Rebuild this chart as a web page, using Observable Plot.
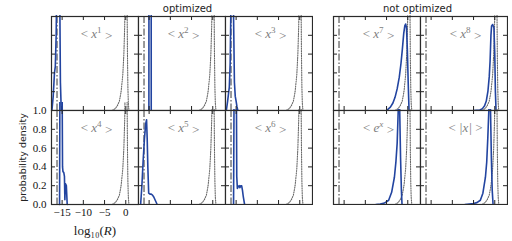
<!DOCTYPE html>
<html><head><meta charset="utf-8">
<script src="https://cdn.jsdelivr.net/npm/d3@7"></script>
<script src="https://cdn.jsdelivr.net/npm/@observablehq/plot@0.6"></script>
<style>
body{margin:0;background:#fff;}
#chart{position:relative;width:512px;height:241px;overflow:hidden;background:#fff;}
.gtitle{position:absolute;font-family:"DejaVu Sans";font-size:10px;color:#222;transform:translate(-50%,-50%);white-space:nowrap;}
</style></head>
<body><div id="chart"></div>
<script>
// ---- data ----
const xTicks = [-15, -10, -5, 0];
const xTickLabels = ["−15", "−10", "−5", "0"];
const yTicks = [0, 0.2, 0.4, 0.6, 0.8, 1.0];
const yTickLabels = ["0.0", "0.2", "0.4", "0.6", "0.8", "1.0"];
const groupTitles = ["optimized", "not optimized"];
const xLabel = "log₁₀(R)";
const yLabel = "probability density";
const panelBase = ["x", "x", "x", "x", "x", "x", "x", "x", "e", "|x|"];
const panelSup  = ["1", "2", "3", "4", "5", "6", "7", "8", "x", ""];
const refLine = -16.2;

// dotted reference distributions (log10 R, density)
const dotOptX = [-3.2, -2.5, -2.0, -1.5, -1.1, -0.7, -0.45, -0.25, -0.1, 0.05, 0.2, 0.3, 0.4, 0.5, 0.6, 0.75];
const dotOptY = [0, 0.02, 0.05, 0.1, 0.2, 0.38, 0.6, 0.9, 1.4, 2.0, 1.8, 1.2, 0.6, 0.25, 0.08, 0];
const dotNotX = [-3.0, -2.3, -1.8, -1.3, -0.9, -0.5, -0.25, -0.05, 0.1, 0.25, 0.4, 0.5, 0.6, 0.7, 0.8, 0.95];
const dotNotY = [0, 0.02, 0.05, 0.1, 0.2, 0.38, 0.6, 0.9, 1.4, 2.0, 1.8, 1.2, 0.6, 0.25, 0.08, 0];

// blue distributions
const x1X = [-17.4, -17.1, -16.8, -16.6, -16.4, -16.2, -16.0, -15.8, -15.6, -15.4, -15.2];
const x1Y = [0, 0.15, 0.4, 0.47, 0.8, 1.6, 2.5, 2.5, 1.5, 0.3, 0];
const x2X = [-15.05, -15.0, -14.55, -14.5];
const x2Y = [0, 6, 6, 0];
const x3X = [-17.3, -17.0, -16.6, -16.4, -16.2, -16.0, -15.8, -15.6, -15.4, -15.2, -15.0, -14.8, -14.6];
const x3Y = [0, 0.1, 0.25, 0.5, 1.2, 2.5, 2.5, 1.0, 0.3, 0.15, 0.1, 0.04, 0];
const x4X = [-15.6, -15.4, -15.2, -14.9, -14.8, -14.6, -14.45, -14.35, -14.2, -14.0, -13.8];
const x4Y = [0, 3, 3, 0.4, 0.35, 0.34, 0.3, 0.05, 0.22, 0.2, 0];
const x5X = [-17.0, -16.7, -16.4, -16.1, -15.8, -15.6, -15.45, -15.3, -15.1, -14.8, -14.5, -14.2, -13.9, -13.5, -13.1];
const x5Y = [0, 0.2, 0.47, 0.7, 0.86, 0.9, 0.7, 0.4, 0.12, 0.11, 0.11, 0.1, 0.08, 0.04, 0];
const x6X = [-15.6, -15.4, -15.2, -15.0, -14.85, -14.7, -14.5, -14.3, -14.1, -13.9, -13.7, -13.5, -13.3, -13.0];
const x6Y = [0, 2, 3, 2, 0.3, 0.17, 0.19, 0.2, 0.18, 0.2, 0.2, 0.15, 0.08, 0];
const x7X = [-5, -4.1, -3.5, -3.0, -2.5, -2.0, -1.6, -1.3, -0.95, -0.7, -0.5, -0.3, -0.1, 0.1, 0.3];
const x7Y = [0, 0.035, 0.08, 0.14, 0.23, 0.355, 0.5, 0.64, 0.82, 0.9, 0.92, 0.88, 0.65, 0.3, 0];
const x8X = [-5, -3.5, -2.9, -2.4, -2.0, -1.6, -1.3, -1.1, -0.9, -0.75, -0.5, -0.2, 0.0, 0.15, 0.3];
const x8Y = [0, 0.005, 0.02, 0.05, 0.1, 0.21, 0.36, 0.53, 0.8, 0.9, 0.915, 0.88, 0.6, 0.2, 0];
const expX = [-7.5, -6.5, -5.5, -4.5, -3.8, -3.15, -2.8, -2.5, -2.25, -2.05, -1.9, -1.7, -1.5, -1.35];
const expY = [0, 0.005, 0.015, 0.045, 0.13, 0.29, 0.45, 0.65, 1.0, 1.3, 1.0, 0.5, 0.15, 0];
const absX = [-7, -6, -5, -4.2, -3.4, -2.8, -2.2, -1.9, -1.65, -1.4, -1.2, -1.0, -0.8, -0.6, -0.4];
const absY = [0, 0.005, 0.01, 0.02, 0.045, 0.12, 0.29, 0.45, 0.7, 1.0, 1.3, 1.0, 0.5, 0.15, 0];

// ---- layout / style ----
const X_DOMAIN = [-17.5, 3];
const LEFTS = [51, 138, 225, 333, 420];
const TOPS = [16, 110];
const PW = 87, PH = 94, TICK = 4;
const BLUE = "#2244a0";

const zipPts = (xs, ys) => xs.map((x, i) => ({x, y: ys[i]}));
const panels = [
  {bx: x1X, by: x1Y, col: 0, row: 0, opt: true},
  {bx: x2X, by: x2Y, col: 1, row: 0, opt: true},
  {bx: x3X, by: x3Y, col: 2, row: 0, opt: true},
  {bx: x4X, by: x4Y, col: 0, row: 1, opt: true},
  {bx: x5X, by: x5Y, col: 1, row: 1, opt: true},
  {bx: x6X, by: x6Y, col: 2, row: 1, opt: true},
  {bx: x7X, by: x7Y, col: 3, row: 0, opt: false},
  {bx: x8X, by: x8Y, col: 4, row: 0, opt: false},
  {bx: expX, by: expY, col: 3, row: 1, opt: false},
  {bx: absX, by: absY, col: 4, row: 1, opt: false}
];

const chart = document.getElementById("chart");

function styleLabel(svg, base, sup) {
  const plain = "< " + base + sup + " >";
  d3.select(svg).selectAll("text").filter(function () { return this.textContent === plain; })
    .each(function () {
      const t = d3.select(this);
      t.text(null);
      t.append("tspan").text("< ");
      t.append("tspan").attr("font-style", "italic").text(base);
      if (sup) {
        t.append("tspan").attr("font-size", "70%").attr("dy", "-0.5em")
          .attr("font-style", /[a-z]/.test(sup) ? "italic" : "normal").text(sup);
        t.append("tspan").attr("dy", "0.5em").text(" >");
      } else {
        t.append("tspan").text(" >");
      }
    });
}

function styleXLabel(svg) {
  d3.select(svg).selectAll("text").filter(function () { return this.textContent === xLabel; })
    .each(function () {
      const t = d3.select(this);
      const k = xLabel.indexOf("R");
      t.text(null);
      t.append("tspan").text(xLabel.slice(0, k));
      t.append("tspan").attr("font-style", "italic").text("R");
      t.append("tspan").text(xLabel.slice(k + 1));
    });
}

panels.forEach((p, i) => {
  const axes = p.col === 0 && p.row === 1;
  const left = LEFTS[p.col], top = TOPS[p.row];
  const mL = axes ? left : 1;
  const mT = axes ? 8 : 1;
  const mB = axes ? 241 - (top + PH) : 1;
  const label = "< " + panelBase[i] + panelSup[i] + " >";
  const dx = p.opt ? dotOptX : dotNotX, dy = p.opt ? dotOptY : dotNotY;
  const marks = [
    Plot.ruleX([refLine], {stroke: "#7a7a7a", strokeWidth: 1.5, strokeDasharray: "7,2,1.5,2"}),
    Plot.line(zipPts(dx, dy), {x: "x", y: "y", stroke: "#6a6a6a", strokeWidth: 1.1, strokeDasharray: "1.1,1.3"}),
    Plot.line(zipPts(p.bx, p.by), {x: "x", y: "y", stroke: BLUE, strokeWidth: 1.6}),
    Plot.text([label], {text: d => d, frameAnchor: "top", dy: 17, dx: 1.5, lineAnchor: "middle", textAnchor: "middle",
      fill: "#808080", fontSize: 13, fontFamily: "Liberation Serif"}),
    Plot.tickX(xTicks, {x: d => d, insetTop: PH - TICK, stroke: "#222"}),
    Plot.tickX(xTicks, {x: d => d, insetBottom: PH - TICK, stroke: "#222"}),
    Plot.tickY(yTicks, {y: d => d, insetRight: PW - TICK, stroke: "#222"}),
    Plot.tickY(yTicks, {y: d => d, insetLeft: PW - TICK, stroke: "#222"}),
    Plot.frame({stroke: "#2a2a2a", strokeWidth: 1.2})
  ];
  if (axes) {
    marks.push(
      Plot.axisX({ticks: xTicks, tickSize: 0, tickPadding: 4, label: null,
        tickFormat: d => xTickLabels[xTicks.indexOf(d)], fontFamily: "Liberation Serif", fontSize: 11}),
      Plot.axisY({ticks: yTicks, tickSize: 0, tickPadding: 5, label: null,
        tickFormat: d => yTickLabels[yTicks.indexOf(d)], fontFamily: "Liberation Serif", fontSize: 11}),
      Plot.text([xLabel], {text: d => d, frameAnchor: "bottom", dy: 26, lineAnchor: "middle", textAnchor: "middle",
        fontFamily: "Liberation Serif", fontSize: 13, fill: "#222"}),
      Plot.text([yLabel], {text: d => d, frameAnchor: "left", rotate: -90, dx: -29, lineAnchor: "middle",
        textAnchor: "middle", fontFamily: "DejaVu Sans", fontSize: 9.5, fill: "#222"})
    );
  }
  const svg = Plot.plot({
    width: PW + mL + 1, height: PH + mT + mB,
    marginLeft: mL, marginRight: 1, marginTop: mT, marginBottom: mB,
    x: {domain: X_DOMAIN, ...(axes ? {} : {axis: null})},
    y: {domain: [0, 1], ...(axes ? {} : {axis: null})},
    style: {position: "absolute", left: (left - mL) + "px", top: (top - mT) + "px",
      background: "transparent", overflow: "hidden", color: "#111",
      fontFamily: "Liberation Serif", fontSize: "11px", maxWidth: "none"},
    marks
  });
  styleLabel(svg, panelBase[i], panelSup[i]);
  if (axes) styleXLabel(svg);
  chart.appendChild(svg);
});

// group titles
const titlePos = [[187.5, 8], [417.5, 8]];
groupTitles.forEach((t, i) => {
  const d = document.createElement("div");
  d.className = "gtitle";
  d.textContent = t;
  d.style.left = titlePos[i][0] + "px";
  d.style.top = titlePos[i][1] + "px";
  chart.appendChild(d);
});
</script>
</body></html>
